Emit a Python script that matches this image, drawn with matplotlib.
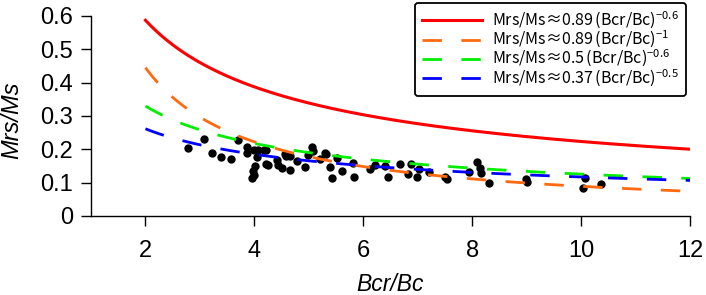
import numpy as np
import matplotlib
matplotlib.use("Agg")
import matplotlib.pyplot as plt

# scatter points (Bcr/Bc, Mrs/Ms)
bcr_bc = [2.78, 3.07, 3.23, 3.38, 3.58, 3.70, 3.87, 3.87, 3.95, 3.98, 4.00, 4.01,
          4.00, 4.05, 4.07, 4.17, 4.22, 4.22, 4.25, 4.41, 4.44, 4.50, 4.56, 4.59,
          4.65, 4.65, 4.78, 4.93, 4.99, 5.05, 5.07, 5.21, 5.30, 5.32, 5.39, 5.42,
          5.52, 5.61, 5.82, 5.83, 6.12, 6.22, 6.39, 6.45, 6.68, 6.82, 6.87, 6.98,
          7.02, 7.20, 7.50, 7.53, 7.94, 8.08, 8.14, 8.16, 8.31, 8.99, 9.00, 10.03,
          10.07, 10.36]
mrs_ms = [0.203, 0.232, 0.190, 0.178, 0.171, 0.228, 0.208, 0.190, 0.113, 0.135, 0.122, 0.150,
          0.198, 0.176, 0.198, 0.198, 0.198, 0.155, 0.153, 0.168, 0.153, 0.143, 0.186, 0.181,
          0.138, 0.180, 0.165, 0.146, 0.184, 0.207, 0.195, 0.170, 0.188, 0.186, 0.148, 0.113,
          0.173, 0.136, 0.159, 0.118, 0.141, 0.152, 0.151, 0.117, 0.157, 0.125, 0.157, 0.117,
          0.141, 0.132, 0.116, 0.110, 0.133, 0.163, 0.145, 0.128, 0.098, 0.111, 0.101, 0.083,
          0.115, 0.095]

# fitted curves Mrs/Ms = a * (Bcr/Bc)^b
coef = [0.89, 0.89, 0.5, 0.37]
expo = [-0.6, -1, -0.6, -0.5]
colors = ["#ff0000", "#ff6a10", "#00ee00", "#0000ff"]
labels = [r"$\mathrm{Mrs/Ms≈0.89\,(Bcr/Bc)}^{-0.6}$",
          r"$\mathrm{Mrs/Ms≈0.89\,(Bcr/Bc)}^{-1}$",
          r"$\mathrm{Mrs/Ms≈0.5\,(Bcr/Bc)}^{-0.6}$",
          r"$\mathrm{Mrs/Ms≈0.37\,(Bcr/Bc)}^{-0.5}$"]

xticks = [2, 4, 6, 8, 10, 12]
yticks = [0, 0.1, 0.2, 0.3, 0.4, 0.5, 0.6]
ytick_labels = ["0", "0.1", "0.2", "0.3", "0.4", "0.5", "0.6"]

plt.rcParams["font.family"] = ["Liberation Sans", "DejaVu Sans"]
plt.rcParams["mathtext.fontset"] = "custom"
plt.rcParams["mathtext.rm"] = "Noto Sans CJK JP"
plt.rcParams["mathtext.it"] = "Noto Sans CJK JP"
plt.rcParams["mathtext.bf"] = "Noto Sans CJK JP"

fig = plt.figure(figsize=(7.06, 2.95), dpi=100)
ax = fig.add_axes([91 / 706, 79 / 295, 599 / 706, 200 / 295])

xx = np.linspace(2, 12, 300)
for i in range(4):
    yy = coef[i] * xx ** expo[i]
    if i == 0:
        ax.plot(xx, yy, color=colors[i], lw=2.2, label=labels[i], zorder=3)
    else:
        ax.plot(xx, yy, color=colors[i], lw=2, dashes=(7, 7), label=labels[i], zorder=3)

ax.plot(bcr_bc, mrs_ms, "o", color="black", ms=5, zorder=2)

ax.set_xlim(1, 12)
ax.set_ylim(0, 0.6)
ax.set_xticks(xticks)
ax.set_yticks(yticks)
ax.set_yticklabels(ytick_labels)
ax.tick_params(axis="both", labelsize=17, length=7, width=1, direction="out")
ax.tick_params(axis="x", pad=10)
ax.tick_params(axis="y", pad=6)
for s in ["top", "right"]:
    ax.spines[s].set_visible(False)
for s in ["left", "bottom"]:
    ax.spines[s].set_linewidth(1)

ax.set_xlabel("Bcr/Bc", fontsize=16.5, style="italic")
ax.set_ylabel("Mrs/Ms", fontsize=17, style="italic")
ax.xaxis.set_label_coords(0.5, -0.285)
ax.yaxis.set_label_coords(-0.113, 0.48)

leg = ax.legend(loc="upper right", bbox_to_anchor=(686 / 706, 1 - 3 / 295),
                bbox_transform=fig.transFigure, borderaxespad=0,
                prop={"size": 11.5},
                handlelength=3.8, handletextpad=0.6, labelspacing=-0.12,
                borderpad=0.45, fancybox=True, frameon=True)
leg.get_frame().set_edgecolor("black")
leg.get_frame().set_linewidth(1.3)
leg.get_frame().set_alpha(1)

fig.savefig("out.png", dpi=100)
